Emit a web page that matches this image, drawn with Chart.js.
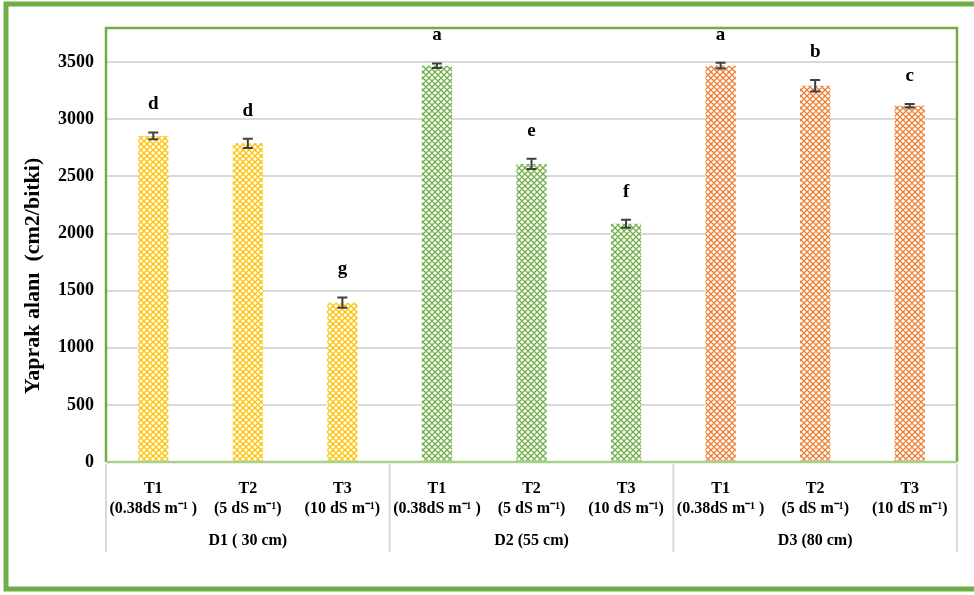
<!DOCTYPE html>
<html>
<head>
<meta charset="utf-8">
<script src="https://cdn.jsdelivr.net/npm/chart.js@4/dist/chart.umd.min.js"></script>
<style>
  html, body { margin: 0; padding: 0; background: #fff; }
  #wrap { width: 974px; height: 595px; position: relative; }
</style>
</head>
<body>
<div id="wrap"><canvas id="yaprakChart" width="974" height="595"></canvas></div>
<script>
// categories (treatment labels, two lines each) and depth groups
const treatments = [
  ["T1", "(0.38dS m\u207B\u00B9 )"], ["T2", "(5 dS m\u207B\u00B9)"], ["T3", "(10 dS m\u207B\u00B9)"],
  ["T1", "(0.38dS m\u207B\u00B9 )"], ["T2", "(5 dS m\u207B\u00B9)"], ["T3", "(10 dS m\u207B\u00B9)"],
  ["T1", "(0.38dS m\u207B\u00B9 )"], ["T2", "(5 dS m\u207B\u00B9)"], ["T3", "(10 dS m\u207B\u00B9)"]
];
const groups = ["D1 ( 30 cm)", "D2 (55 cm)", "D3 (80 cm)"];

// leaf area values, standard errors and significance letters
const leafArea = [2855, 2790, 1395, 3470, 2610, 2085, 3470, 3295, 3120];
const stdErr = [30, 40, 45, 20, 45, 35, 25, 50, 15];
const letters = ["d", "d", "g", "a", "e", "f", "a", "b", "c"];

const yTicks = [0, 500, 1000, 1500, 2000, 2500, 3000, 3500];

const groupColors = ["#FFC000", "#70AD47", "#ED7D31"];
const serif = "'Liberation Serif', 'Times New Roman', serif";

// lattice pattern like the excel fill
function makePattern(color) {
  const c = document.createElement("canvas");
  c.width = 6;
  c.height = 6;
  const g = c.getContext("2d");
  g.fillStyle = "#fff";
  g.fillRect(0, 0, 6, 6);
  g.strokeStyle = color;
  g.lineWidth = 1.3;
  g.beginPath();
  g.moveTo(0, 3); g.lineTo(3, 0); g.lineTo(6, 3); g.lineTo(3, 6); g.closePath();
  g.stroke();
  return document.getElementById("yaprakChart").getContext("2d").createPattern(c, "repeat");
}
const patterns = groupColors.map(makePattern);
const barFills = leafArea.map((v, i) => patterns[Math.floor(i / 3)]);

const decorPlugin = {
  id: "decor",
  beforeDraw(chart) {
    const ctx = chart.ctx;
    ctx.save();
    ctx.fillStyle = "#fff";
    ctx.fillRect(0, 0, chart.width, chart.height);
    ctx.restore();
  },
  afterDatasetsDraw(chart) {
    const ctx = chart.ctx;
    const y = chart.scales.y;
    const meta = chart.getDatasetMeta(0);
    ctx.save();
    // error bars
    ctx.strokeStyle = "#404040";
    ctx.lineWidth = 2;
    meta.data.forEach((bar, i) => {
      const top = y.getPixelForValue(leafArea[i] + stdErr[i]);
      const bot = y.getPixelForValue(leafArea[i] - stdErr[i]);
      ctx.beginPath();
      ctx.moveTo(bar.x, top); ctx.lineTo(bar.x, bot);
      ctx.moveTo(bar.x - 5, top); ctx.lineTo(bar.x + 5, top);
      ctx.moveTo(bar.x - 5, bot); ctx.lineTo(bar.x + 5, bot);
      ctx.stroke();
    });
    // letters
    ctx.fillStyle = "#000";
    ctx.font = "bold 19px " + serif;
    ctx.textAlign = "center";
    ctx.textBaseline = "middle";
    meta.data.forEach((bar, i) => {
      const top = y.getPixelForValue(leafArea[i] + stdErr[i]);
      ctx.fillText(letters[i], bar.x, top - 28);
    });
    ctx.restore();
  },
  afterDraw(chart) {
    const ctx = chart.ctx;
    const a = chart.chartArea;
    const x = chart.scales.x;
    ctx.save();
    // plot border
    ctx.strokeStyle = "#70AD47";
    ctx.lineWidth = 2.5;
    ctx.beginPath();
    ctx.moveTo(a.left, a.bottom); ctx.lineTo(a.left, a.top);
    ctx.lineTo(a.right, a.top); ctx.lineTo(a.right, a.bottom);
    ctx.stroke();
    ctx.strokeStyle = "#A9D18E";
    ctx.beginPath();
    ctx.moveTo(a.left, a.bottom); ctx.lineTo(a.right, a.bottom);
    ctx.stroke();
    // group separators and labels
    const step = (a.right - a.left) / treatments.length;
    ctx.strokeStyle = "#d9d9d9";
    ctx.lineWidth = 2;
    for (let g = 0; g <= groups.length; g++) {
      const sx = a.left + g * 3 * step;
      ctx.beginPath();
      ctx.moveTo(sx, a.bottom + 2); ctx.lineTo(sx, a.bottom + 90);
      ctx.stroke();
    }
    ctx.fillStyle = "#000";
    ctx.font = "bold 16px " + serif;
    ctx.textAlign = "center";
    ctx.textBaseline = "middle";
    groups.forEach((label, g) => {
      ctx.fillText(label, x.getPixelForValue(g * 3 + 1), a.bottom + 79);
    });
    // y axis title
    ctx.translate(33, 276);
    ctx.rotate(-Math.PI / 2);
    ctx.font = "bold 22px " + serif;
    ctx.fillText("Yaprak alanı  (cm2/bitki)", 0, 0);
    ctx.setTransform(1, 0, 0, 1, 0, 0);
    // outer frame
    ctx.strokeStyle = "#70AD47";
    ctx.lineWidth = 5;
    ctx.strokeRect(6, 4, 990, 585);
    ctx.restore();
  }
};

new Chart(document.getElementById("yaprakChart"), {
  type: "bar",
  data: {
    labels: treatments,
    datasets: [{
      label: "Yaprak alanı",
      data: leafArea,
      backgroundColor: barFills,
      borderWidth: 0,
      barPercentage: 0.32,
      categoryPercentage: 1
    }]
  },
  options: {
    responsive: false,
    animation: false,
    layout: { padding: { left: 0, top: 28, right: 17, bottom: 0 } },
    plugins: { legend: { display: false }, tooltip: { enabled: false } },
    scales: {
      x: {
        grid: { display: false },
        border: { display: false },
        ticks: {
          autoSkip: false,
          maxRotation: 0,
          minRotation: 0,
          padding: 8,
          color: "#000",
          font: { family: serif, size: 16, weight: "bold", lineHeight: 1.3 }
        },
        afterFit(scale) { scale.height = 133; }
      },
      y: {
        min: 0,
        max: 3800,
        grid: { color: "#d9d9d9", lineWidth: 2, drawTicks: false },
        border: { display: false },
        afterBuildTicks(scale) { scale.ticks = yTicks.map(v => ({ value: v })); },
        ticks: {
          padding: 12,
          color: "#000",
          callback: (v) => String(v),
          font: { family: serif, size: 18, weight: "bold" }
        },
        afterFit(scale) { scale.width = 106; }
      }
    }
  },
  plugins: [decorPlugin]
});
</script>
</body>
</html>
